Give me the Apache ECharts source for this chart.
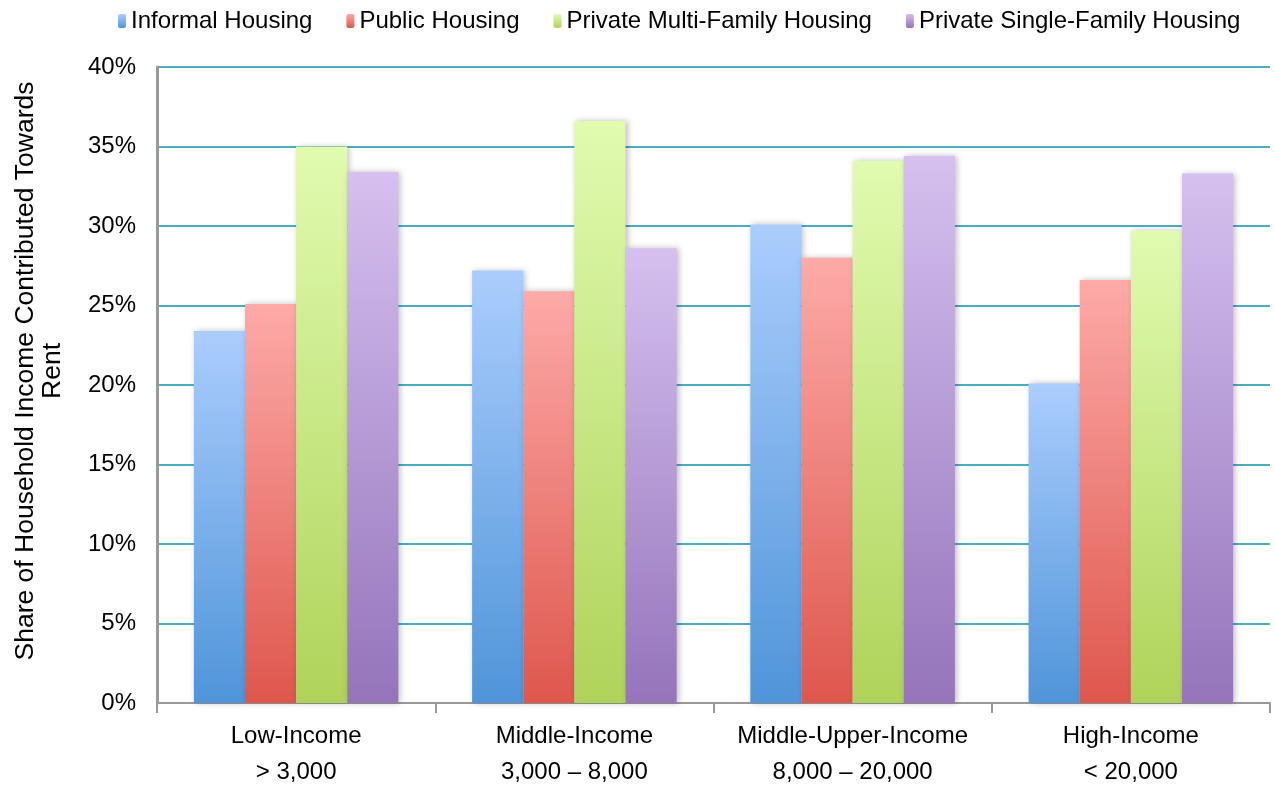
<!DOCTYPE html>
<html><head><meta charset="utf-8">
<script src="https://cdn.jsdelivr.net/npm/echarts@6/dist/echarts.min.js"></script>
<style>html,body{margin:0;padding:0;background:#fff}#c{width:1275px;height:787px}</style>
</head><body><div id="c"></div>
<script>
const categories = ['Low-Income\n> 3,000', 'Middle-Income\n3,000 – 8,000', 'Middle-Upper-Income\n8,000 – 20,000', 'High-Income\n< 20,000'];
const seriesNames = ['Informal Housing', 'Public Housing', 'Private Multi-Family Housing', 'Private Single-Family Housing'];
const informal = [23.4, 27.2, 30.1, 20.1];
const publicH = [25.1, 25.9, 28.0, 26.6];
const multi = [35.0, 36.6, 34.1, 29.7];
const single = [33.4, 28.6, 34.4, 33.3];
const yTicks = [0, 5, 10, 15, 20, 25, 30, 35, 40];

const colors = [['#abcdfd', '#4f95d9'], ['#fdaaa8', '#de574d'], ['#e1fbb0', '#afd35a'], ['#d5c0ef', '#9574bb']];
const FONT = '"Liberation Sans", Arial, sans-serif';
function grad(c) {
  return new echarts.graphic.LinearGradient(0, 0, 0, 1, [{offset: 0, color: c[0]}, {offset: 1, color: c[1]}]);
}
const data = [informal, publicH, multi, single];
const chart = echarts.init(document.getElementById('c'), null, {renderer: 'canvas'});
chart.setOption({
  animation: false,
  textStyle: {fontFamily: FONT},
  legend: {
    top: 4, left: 113,
    itemWidth: 8, itemHeight: 14, itemGap: 34,
    textStyle: {fontFamily: FONT, fontSize: 24, color: '#000'},
    data: seriesNames.map((n, i) => ({name: n, itemStyle: {color: grad(colors[i])}}))
  },
  grid: {left: 157, right: 5, top: 67, bottom: 84, outerBoundsMode: 'none', containLabel: false},
  xAxis: {
    type: 'category', data: categories,
    axisLine: {lineStyle: {color: '#999', width: 2}},
    axisTick: {show: true, interval: 0, length: 10, lineStyle: {color: '#999', width: 2}},
    axisLabel: {interval: 0, hideOverlap: false, fontFamily: FONT, fontSize: 24, color: '#000', lineHeight: 36, margin: 15}
  },
  yAxis: {
    type: 'value', min: 0, max: 40, interval: 5,
    name: 'Share of Household Income Contributed Towards\nRent',
    nameLocation: 'middle', nameGap: 91, nameRotate: 90,
    nameTextStyle: {fontFamily: FONT, fontSize: 26.5, color: '#000', lineHeight: 27, padding: [0, 0, 0, 28]},
    axisLine: {show: true, lineStyle: {color: '#999', width: 3}},
    axisTick: {show: false},
    axisLabel: {fontFamily: FONT, fontSize: 24, color: '#000', margin: 21, formatter: v => yTicks.includes(v) ? v + '%' : ''},
    splitLine: {lineStyle: {color: '#4bacc6', width: 2}}
  },
  series: seriesNames.map((n, i) => ({
    name: n, type: 'bar', data: data[i],
    barGap: '0%', barCategoryGap: '26.5%',
    itemStyle: {color: grad(colors[i]), shadowColor: 'rgba(0,0,0,0.25)', shadowBlur: 6, shadowOffsetX: 2, shadowOffsetY: 0}
  }))
});
</script></body></html>
